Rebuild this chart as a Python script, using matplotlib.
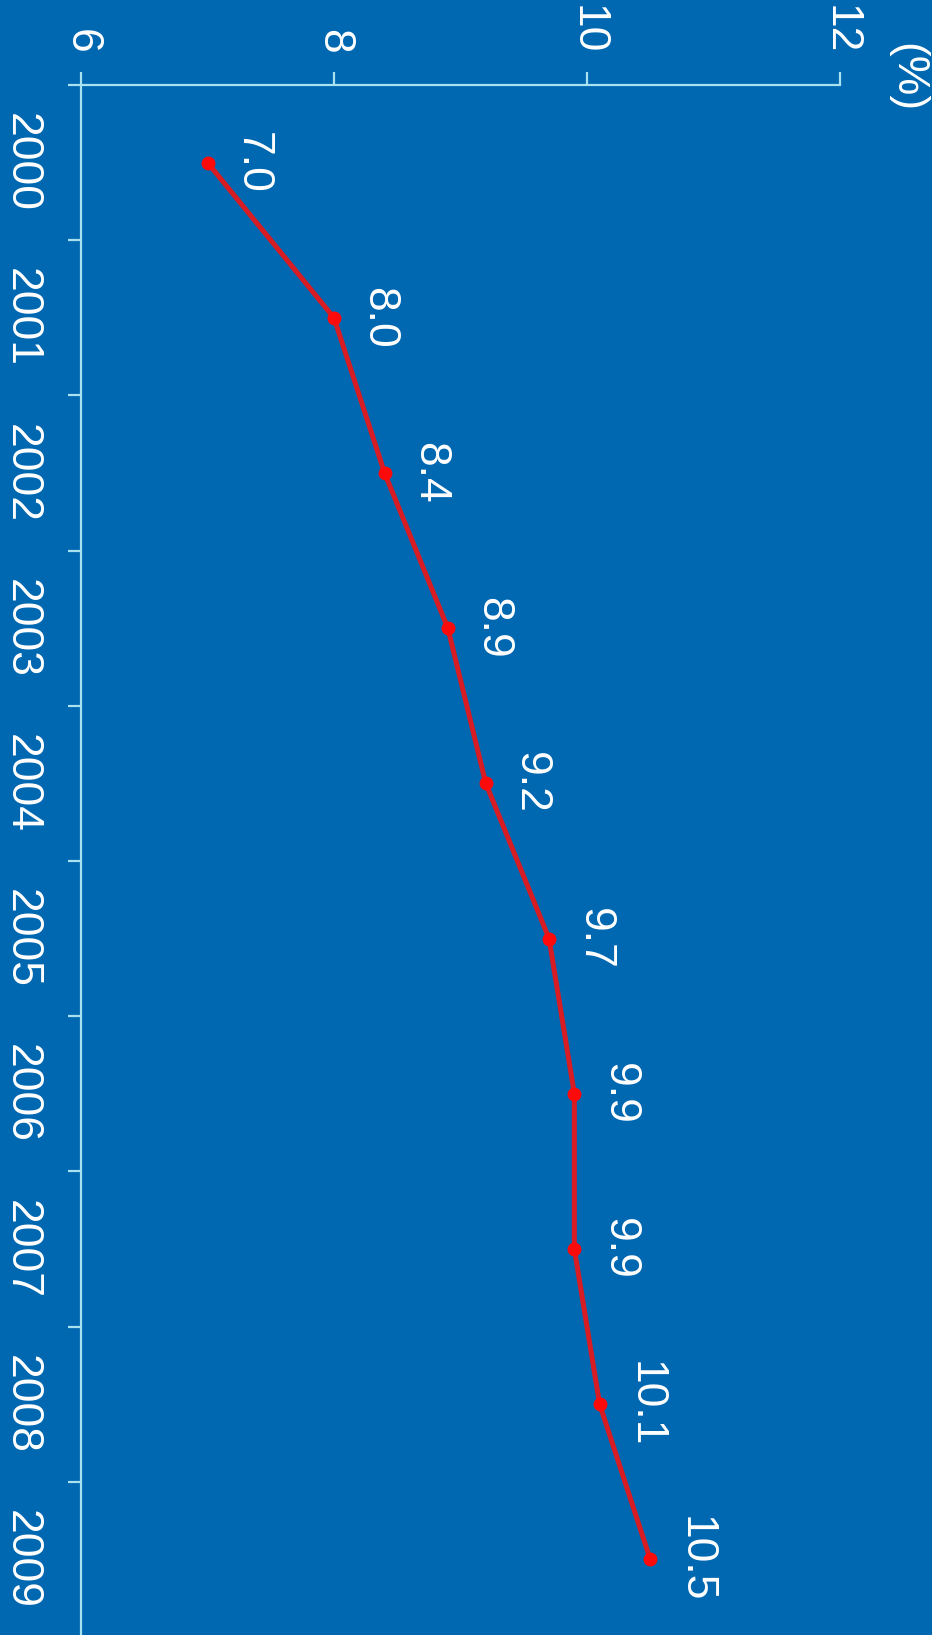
import matplotlib
matplotlib.use("Agg")
import matplotlib.pyplot as plt

plt.rcParams['font.family'] = ['Liberation Sans', 'DejaVu Sans']

years = ["2000", "2001", "2002", "2003", "2004", "2005", "2006", "2007", "2008", "2009"]
values = [7.0, 8.0, 8.4, 8.9, 9.2, 9.7, 9.9, 9.9, 10.1, 10.5]
value_ticks = [6, 8, 10, 12]
unit_label = "(%)"

BG = "#0067B1"
AXIS = "#A8E2F0"
LINE = "#D81C24"
MARK = "#FF0A0A"
FS = 32

W, H = 932, 1635
fig = plt.figure(figsize=(W / 100, H / 100), dpi=100, facecolor=BG)

left_px, right_px, top_px, bottom_px = 81, 840, 85, 1637
ax = fig.add_axes([left_px / W, 1 - bottom_px / H,
                   (right_px - left_px) / W, (bottom_px - top_px) / H])
ax.set_facecolor(BG)

idx = list(range(len(years)))
ax.plot(values, idx, color=LINE, lw=3.6, zorder=2, solid_joinstyle='round')
ax.plot(values, idx, ls='none', marker='o', ms=9, color=MARK, zorder=3)

for v, i in zip(values, idx):
    ax.annotate(f"{v:.1f}", (v, i), xytext=(45, 0), textcoords='offset pixels',
                ha='center', va='center', rotation=-90, color='white', fontsize=FS)

ax.set_xlim(6, 12)
ax.set_ylim(len(years) - 0.5, -0.5)

# value axis along the top
ax.xaxis.tick_top()
ax.set_xticks(value_ticks)
ax.set_xticklabels([str(t) for t in value_ticks], rotation=-90, color='white', fontsize=FS)
ax.tick_params(axis='x', colors=AXIS, labelcolor='white', length=9.4, width=1.6, pad=13)

# category axis: boundary ticks, labels centred between them
ax.set_yticks([i - 0.5 for i in idx] + [len(years) - 0.5])
ax.set_yticklabels([])
ax.set_yticks(idx, minor=True)
ax.set_yticklabels(years, minor=True, rotation=-90, color='white', fontsize=FS, va='center')
ax.tick_params(axis='y', which='major', colors=AXIS, length=9.4, width=1.6)
ax.tick_params(axis='y', which='minor', length=0, pad=28, labelcolor='white')

for s in ['right', 'bottom']:
    ax.spines[s].set_visible(False)
for s in ['top', 'left']:
    ax.spines[s].set_color(AXIS)
    ax.spines[s].set_linewidth(1.6)

fig.text(907 / W, 1 - 78 / H, unit_label, rotation=-90, ha='center', va='center',
         color='white', fontsize=FS)

fig.savefig("out.png", dpi=100, facecolor=BG)
